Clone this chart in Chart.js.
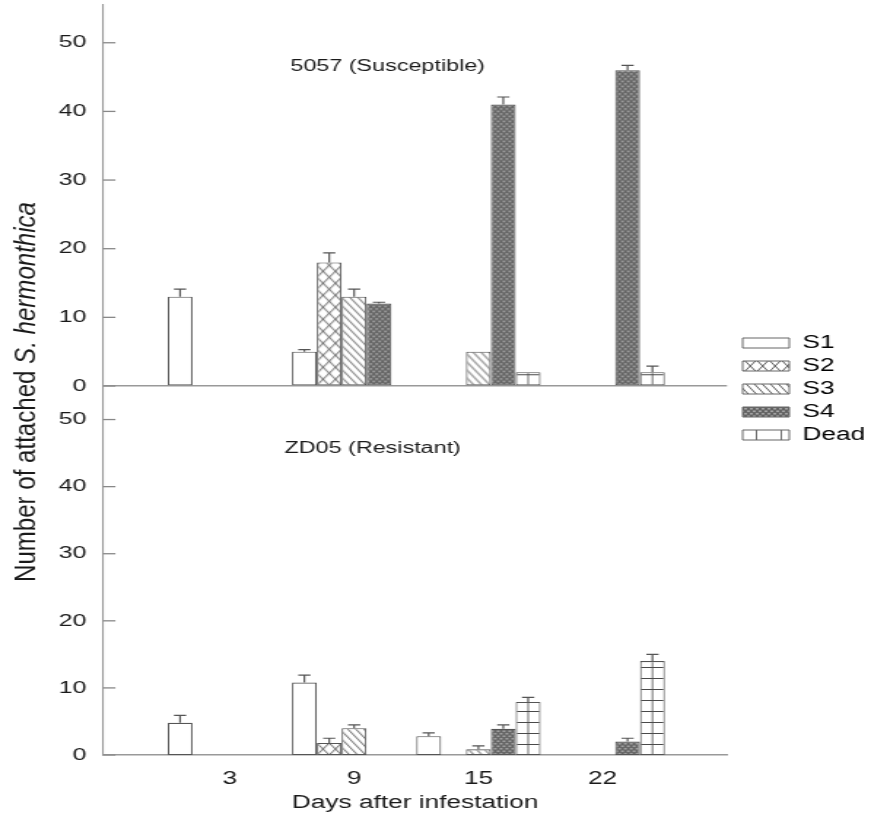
<!DOCTYPE html>
<html>
<head>
<meta charset="utf-8">
<script src="https://cdn.jsdelivr.net/npm/chart.js@4/dist/chart.umd.min.js"></script>
<style>
  html, body { margin: 0; padding: 0; background: #fff; overflow: hidden; }
  #outer { width: 871px; height: 820px; overflow: hidden; }
  #wrap { width: 597px; height: 820px; transform: scaleX(1.45896); transform-origin: 0 0; }
  #c { display: block; width: 597px; height: 820px; }
</style>
</head>
<body>
<div id="outer"><div id="wrap"><canvas id="c" width="597" height="820"></canvas></div></div>
<script>
// ---- data ----
const days = ['3', '9', '15', '22'];
const seriesNames = ['S1', 'S2', 'S3', 'S4', 'Dead'];
const panelTitles = ['5057 (Susceptible)', 'ZD05 (Resistant)'];
const yTickValues = [0, 10, 20, 30, 40, 50];
const yTitleMain = 'Number of attached ';
const yTitleItalic = 'S. hermonthica';
const xTitle = 'Days after infestation';

// 5057 (Susceptible) - top panel
const s1Top = [13, 5, null, null];
const s2Top = [null, 18, null, null];
const s3Top = [null, 13, 5, null];
const s4Top = [null, 12, 41, 46];
const deadTop = [null, null, 2, 2];
const s1TopErr = [1.1, 0.3, 0, 0];
const s2TopErr = [0, 1.4, 0, 0];
const s3TopErr = [0, 1.1, 0, 0];
const s4TopErr = [0, 0.2, 1.1, 0.7];
const deadTopErr = [0, 0, 0, 0.9];

// ZD05 (Resistant) - bottom panel
const s1Bot = [4.8, 10.8, 2.8, null];
const s2Bot = [null, 1.8, null, null];
const s3Bot = [null, 4.0, 0.85, null];
const s4Bot = [null, null, 3.9, 2.0];
const deadBot = [null, null, 7.9, 14.0];
const s1BotErr = [1.1, 1.1, 0.5, 0];
const s2BotErr = [0, 0.7, 0, 0];
const s3BotErr = [0, 0.5, 0.5, 0];
const s4BotErr = [0, 0, 0.6, 0.5];
const deadBotErr = [0, 0, 0.7, 1.0];

// ---- styling ----
const FONT = '"Liberation Sans", Arial, Helvetica, sans-serif';
const TEXT = '#1a1a1a';
const EDGE = '#555';

function tileCanvas(type) {
  const c = document.createElement('canvas');
  let g;
  if (type === 'S1') {
    c.width = 4; c.height = 4; g = c.getContext('2d');
    g.fillStyle = '#fff'; g.fillRect(0, 0, 4, 4);
  } else if (type === 'S2') {
    c.width = 17; c.height = 24; g = c.getContext('2d');
    g.fillStyle = '#fff'; g.fillRect(0, 0, 17, 24);
    g.strokeStyle = '#4a4a4a'; g.lineWidth = 0.9;
    const h = 8.5;
    const segs = [[h,0,0,12],[17,0,0,24],[17,12,h,24],[0,0,17,24],[h,0,17,12],[0,12,h,24]];
    segs.forEach(s => { g.beginPath(); g.moveTo(s[0], s[1]); g.lineTo(s[2], s[3]); g.stroke(); });
  } else if (type === 'S3') {
    c.width = 11; c.height = 16; g = c.getContext('2d');
    g.fillStyle = '#fff'; g.fillRect(0, 0, 11, 16);
    g.strokeStyle = '#4a4a4a'; g.lineWidth = 0.9;
    [-11, -5.5, 0, 5.5, 11].forEach(x0 => { g.beginPath(); g.moveTo(x0, 0); g.lineTo(x0 + 11, 16); g.stroke(); });
  } else if (type === 'S4') {
    c.width = 4; c.height = 5; g = c.getContext('2d');
    g.fillStyle = '#626262'; g.fillRect(0, 0, 4, 5);
    g.fillStyle = '#cdcdcd';
    [[1, 1.25], [3, 3.75]].forEach(p => { g.beginPath(); g.ellipse(p[0], p[1], 0.7, 1.0, 0, 0, Math.PI * 2); g.fill(); });
  } else {
    c.width = 17; c.height = 11; g = c.getContext('2d');
    g.fillStyle = '#fff'; g.fillRect(0, 0, 17, 11);
    g.strokeStyle = '#4a4a4a'; g.lineWidth = 1;
    g.beginPath(); g.moveTo(0, 0.5); g.lineTo(17, 0.5); g.stroke();
    g.lineWidth = 0.8;
    g.beginPath(); g.moveTo(8.5, 0); g.lineTo(8.5, 11); g.stroke();
  }
  return c;
}
const tiles = {};
seriesNames.forEach(n => tiles[n] = tileCanvas(n));
const ctx0 = document.getElementById('c').getContext('2d');
const basePatterns = {};
seriesNames.forEach(n => basePatterns[n] = ctx0.createPattern(tiles[n], 'repeat'));

const topVals = [s1Top, s2Top, s3Top, s4Top, deadTop];
const topErrs = [s1TopErr, s2TopErr, s3TopErr, s4TopErr, deadTopErr];
const botVals = [s1Bot, s2Bot, s3Bot, s4Bot, deadBot];
const botErrs = [s1BotErr, s2BotErr, s3BotErr, s4BotErr, deadBotErr];

function mk(vals, errs, name, axis) {
  return {
    label: name,
    data: vals.map((v, i) => ({ x: i, y: v })),
    errors: errs,
    yAxisID: axis,
    stack: name,
    series: name,
    backgroundColor: basePatterns[name],
    borderColor: EDGE,
    borderWidth: 1.1,
    borderSkipped: false,
    inflateAmount: 0,
    barPercentage: 1,
    categoryPercentage: 1
  };
}
const datasets = [];
seriesNames.forEach((n, k) => datasets.push(mk(topVals[k], topErrs[k], n, 'yTop')));
seriesNames.forEach((n, k) => datasets.push(mk(botVals[k], botErrs[k], n, 'yBot')));

const patternPlugin = {
  id: 'patternAlign',
  beforeDatasetsDraw(chart) {
    const ctx = chart.ctx;
    chart.data.datasets.forEach((ds, di) => {
      const meta = chart.getDatasetMeta(di);
      meta.data.forEach((el, j) => {
        const v = ds.data[j].y;
        if (v === null || v === undefined) {
          el.options = Object.assign({}, el.options, { borderWidth: 0, backgroundColor: 'rgba(0,0,0,0)', borderColor: 'rgba(0,0,0,0)' });
          return;
        }
        const pat = ctx.createPattern(tiles[ds.series], 'repeat');
        const left = el.x - el.width / 2;
        pat.setTransform(new DOMMatrix().translate(left, el.base));
        el.options = Object.assign({}, el.options, { backgroundColor: pat });
      });
    });
  },
  afterDatasetsDraw(chart) {
    const ctx = chart.ctx;
    ctx.save();
    ctx.strokeStyle = EDGE;
    ctx.lineWidth = 1.2;
    chart.data.datasets.forEach((ds, di) => {
      const meta = chart.getDatasetMeta(di);
      const ys = chart.scales[ds.yAxisID];
      meta.data.forEach((el, j) => {
        const v = ds.data[j].y, e = ds.errors[j];
        if (v === null || !e) return;
        const yE = ys.getPixelForValue(v + e);
        ctx.beginPath();
        ctx.moveTo(el.x, el.y); ctx.lineTo(el.x, yE);
        ctx.moveTo(el.x - 4.2, yE); ctx.lineTo(el.x + 4.2, yE);
        ctx.stroke();
      });
    });
    ctx.restore();
  },
  afterDraw(chart) {
    const ctx = chart.ctx;
    const area = chart.chartArea;
    const xs = chart.scales.x;
    ctx.save();
    ctx.strokeStyle = '#888'; ctx.lineWidth = 1.3;
    ['yTop', 'yBot'].forEach(id => {
      const s = chart.scales[id];
      s.ticks.forEach(t => {
        const y = s.getPixelForValue(t.value);
        ctx.beginPath(); ctx.moveTo(area.left, y); ctx.lineTo(area.left + 8.5, y); ctx.stroke();
      });
    });
    ctx.fillStyle = TEXT;
    ctx.font = '16px ' + FONT;
    ctx.textAlign = 'center'; ctx.textBaseline = 'middle';
    ctx.fillText(panelTitles[0], xs.getPixelForValue(1.27), chart.scales.yTop.getPixelForValue(46.6));
    ctx.fillText(panelTitles[1], xs.getPixelForValue(1.15), chart.scales.yBot.getPixelForValue(45.7));
    // y-axis title (roman + italic)
    ctx.translate(18.5, 392);
    ctx.rotate(-Math.PI / 2);
    const f1 = '21px ' + FONT, f2 = 'italic 21px ' + FONT;
    ctx.font = f1; const w1 = ctx.measureText(yTitleMain).width;
    ctx.font = f2; const w2 = ctx.measureText(yTitleItalic).width;
    const sx = 380 / (w1 + w2);
    ctx.scale(sx, 1);
    ctx.textAlign = 'left';
    const x = -(w1 + w2) / 2;
    ctx.font = f1; ctx.fillText(yTitleMain, x, 0);
    ctx.font = f2; ctx.fillText(yTitleItalic, x + w1, 0);
    ctx.restore();
  },
  afterLayout(chart) {
    const lg = chart.legend;
    if (!lg) return;
    const h = lg.bottom - lg.top;
    lg.top = 389 - h / 2; lg.bottom = lg.top + h;
    const w = lg.right - lg.left;
    lg.left = 504; lg.right = lg.left + w;
  }
};

function yScale(weight, max, isTop) {
  return {
    type: 'linear',
    position: 'left',
    stack: 'panels',
    stackWeight: weight,
    min: 0,
    max: max,
    stacked: false,
    afterBuildTicks: s => { s.ticks = yTickValues.map(v => ({ value: v })); },
    afterFit: s => { s.width = 36; s.paddingTop = 0; s.paddingBottom = 0; },
    border: { display: true, color: '#999', width: 1.1 },
    grid: {
      display: isTop,
      drawTicks: false,
      drawOnChartArea: true,
      lineWidth: 1.5,
      color: c => (c.tick && c.tick.value === 0) ? '#999' : 'rgba(0,0,0,0)'
    },
    ticks: { padding: 11.5, color: TEXT, font: { family: FONT, size: 17 } }
  };
}

new Chart(document.getElementById('c'), {
  type: 'bar',
  data: { datasets },
  plugins: [patternPlugin],
  options: {
    responsive: false,
    animation: false,
    events: [],
    devicePixelRatio: 1,
    layout: { padding: { top: 5, left: 34.6, right: 98.7, bottom: 0 } },
    scales: {
      x: {
        type: 'linear',
        position: 'bottom',
        min: -1.02,
        max: 4,
        offset: false,
        afterBuildTicks: s => { s.ticks = days.map((d, i) => ({ value: i })); },
        afterFit: s => { s.height = 65; s.paddingLeft = 0; s.paddingRight = 0; },
        ticks: {
          padding: 13,
          color: TEXT,
          font: { family: FONT, size: 18 },
          callback: (v) => days[v] !== undefined ? days[v] : ''
        },
        grid: { display: false, drawTicks: false },
        border: { display: true, color: '#999', width: 1.5 },
        title: { display: true, text: xTitle, color: TEXT, font: { family: FONT, size: 18 }, padding: { top: 0, bottom: 6 } }
      },
      yBot: yScale(369, 55, false),
      yTop: yScale(381, 55.5, true)
    },
    plugins: {
      tooltip: { enabled: false },
      legend: {
        display: true,
        position: 'chartArea',
        align: 'center',
        labels: {
          boxWidth: 32,
          boxHeight: 10,
          padding: 5,
          color: TEXT,
          font: { family: FONT, size: 18 },
          generateLabels: chart => seriesNames.map((n, k) => ({
            text: n,
            fillStyle: basePatterns[n],
            strokeStyle: '#666',
            lineWidth: 1,
            hidden: false,
            datasetIndex: k
          }))
        }
      }
    }
  }
});
</script>
</body>
</html>
